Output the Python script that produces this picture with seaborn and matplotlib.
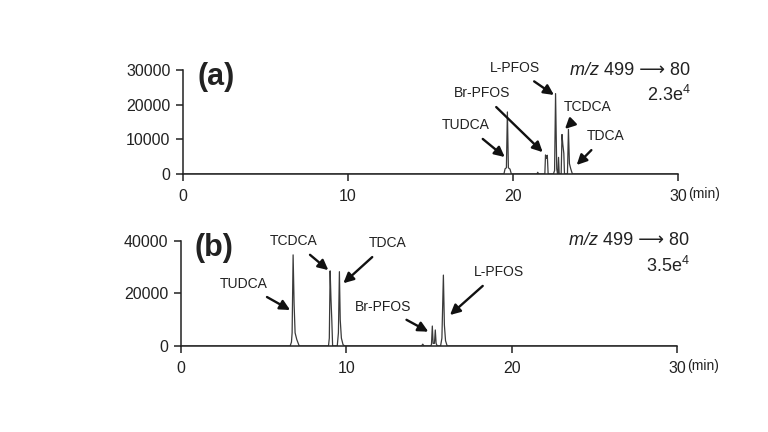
import numpy as np
import pandas as pd
import matplotlib
matplotlib.use("Agg")
import matplotlib.pyplot as plt
import matplotlib.transforms as mtransforms
import seaborn as sns

# chromatogram traces (time in min, intensity)
time_a = [0, 19.45, 19.52, 19.6, 19.66, 19.72, 19.82, 19.9,
          21.45, 21.5, 21.55,
          21.93, 21.97, 22.02, 22.08, 22.13,
          22.45, 22.52, 22.58, 22.65, 22.7,
          22.72, 22.76, 22.8,
          22.92, 22.97, 23.02, 23.08, 23.12,
          23.3, 23.36, 23.42, 23.5, 23.6, 30]
int_a = [0, 0, 1500, 1800, 17900, 1800, 1400, 0,
         0, 500, 0,
         0, 5500, 4500, 5400, 0,
         0, 1000, 23200, 1500, 0,
         0, 4800, 0,
         0, 11400, 8500, 6000, 0,
         0, 12900, 3000, 1500, 0, 0]

time_b = [0, 6.6, 6.68, 6.72, 6.78, 6.84, 6.9, 7.0, 7.15,
          8.92, 8.97, 9.02, 9.07, 9.12, 9.17,
          9.45, 9.52, 9.58, 9.63, 9.7, 9.8, 9.9,
          14.55, 14.62, 14.7,
          15.1, 15.15, 15.2, 15.25, 15.33, 15.38, 15.43, 15.5,
          15.7, 15.78, 15.87, 15.93, 16.0, 16.1, 30]
int_b = [0, 0, 1500, 5000, 34700, 16000, 5000, 2500, 0,
         0, 3000, 28600, 18000, 10000, 0,
         0, 5000, 28300, 10000, 3000, 500, 0,
         0, 700, 0,
         0, 600, 7600, 1000, 1000, 6100, 1000, 0,
         0, 3000, 27000, 8000, 2000, 0, 0]

labels_a = ["TUDCA", "Br-PFOS", "L-PFOS", "TCDCA", "TDCA"]
labels_b = ["TUDCA", "TCDCA", "TDCA", "Br-PFOS", "L-PFOS"]
scale_a = "2.3e$^4$"
scale_b = "3.5e$^4$"
transition = "499 ⟶ 80"

# layout: (text x, text y, arrow head x, arrow head y) in data units
ann_a = [(17.15, 14100, 19.5, 4900), (18.1, 23400, 21.8, 6300),
         (20.1, 30600, 22.48, 22800), (24.5, 19200, 23.15, 13000),
         (25.6, 11000, 23.86, 2600)]
ann_b = [(3.8, 23600, 6.6, 13700), (6.8, 40000, 8.91, 28900),
         (12.5, 39200, 9.82, 23900), (12.2, 14900, 14.96, 5450),
         (19.2, 28200, 16.27, 11800)]

sns.set_style("ticks")
plt.rcParams["font.family"] = ["Liberation Sans", "DejaVu Sans"]
plt.rcParams["mathtext.fontset"] = "custom"
plt.rcParams["mathtext.rm"] = "Liberation Sans"
plt.rcParams["mathtext.it"] = "Liberation Sans:italic"

fig = plt.figure(figsize=(7.68, 4.32), dpi=100)
ax_a = fig.add_axes([0.2383, 0.5972, 0.6445, 0.2407])
ax_b = fig.add_axes([0.2357, 0.1991, 0.6458, 0.2431])

panels = [
    (ax_a, time_a, int_a, labels_a, ann_a, scale_a, "(a)", 30000, [0, 10000, 20000, 30000]),
    (ax_b, time_b, int_b, labels_b, ann_b, scale_b, "(b)", 40000, [0, 20000, 40000]),
]

for ax, t, y, labs, anns, scale, tag, ymax, yticks in panels:
    df = pd.DataFrame({"time": t, "intensity": y})
    sns.lineplot(data=df, x="time", y="intensity", sort=False, estimator=None,
                 color="#3a3a3a", linewidth=0.9, ax=ax)
    ax.set_xlim(0, 30)
    ax.set_ylim(0, ymax)
    ax.set_xticks([0, 10, 20, 30])
    ax.set_yticks(yticks)
    ax.set_xlabel("")
    ax.set_ylabel("")
    sns.despine(ax=ax)
    for s in ["left", "bottom"]:
        ax.spines[s].set_linewidth(1.1)
        ax.spines[s].set_color("#222222")
    ax.tick_params(axis="both", direction="out", length=5, width=1.1,
                   labelsize=11.5, colors="#222222", pad=4)
    ax.tick_params(axis="x", pad=6)
    for lab, (tx, ty, hx, hy) in zip(labs, anns):
        ax.annotate(lab, xy=(hx, hy), xytext=(tx, ty), ha="center", va="center",
                    fontsize=10, color="#222222", annotation_clip=False,
                    arrowprops=dict(arrowstyle="-|>", color="#111111", lw=1.7,
                                    mutation_scale=15, shrinkA=4, shrinkB=0))
    tr = ax.text(30.75, ymax, transition, ha="right", va="center", fontsize=13,
                 color="#222222", clip_on=False,
                 family=["Liberation Sans", "DejaVu Sans"])
    ax.annotate("m/z ", xy=(0, 0.5), xycoords=tr, ha="right", va="center",
                fontsize=13, style="italic", color="#222222")
    ax.text(30.75, ymax * 0.76, scale, ha="right", va="center", fontsize=13,
            color="#222222", clip_on=False)
    ax.text(2.0, ymax * 0.93, tag, ha="center", va="center", fontsize=22,
            fontweight="bold", color="#222222")
    trans = mtransforms.blended_transform_factory(ax.transData, ax.transAxes)
    ax.text(30.6, -0.19, "(min)", transform=trans, ha="left", va="center",
            fontsize=10, color="#222222")

fig.savefig("out.png", dpi=100)
